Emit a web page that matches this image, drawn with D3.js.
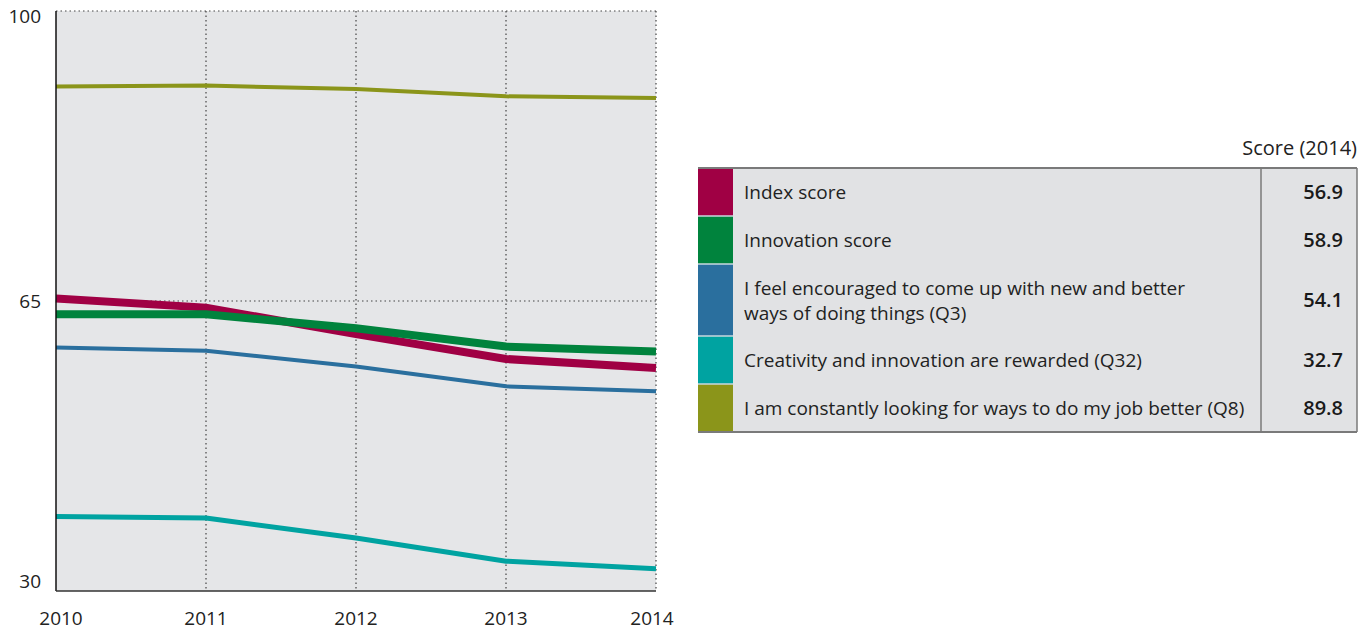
<!DOCTYPE html>
<html>
<head>
<meta charset="utf-8">
<script src="https://cdn.jsdelivr.net/npm/d3@7"></script>
<style>
  html, body { margin: 0; padding: 0; background: #fff; }
  svg { display: block; font-family: "Open Sans", Lato, sans-serif; }
</style>
</head>
<body>
<div id="chart"></div>
<script>
const years = [2010, 2011, 2012, 2013, 2014];
const yTicks = [30, 65, 100];

const indexScore = [65.3, 64.2, 61.0, 58.0, 56.9];
const innovationScore = [63.4, 63.4, 61.7, 59.5, 58.9];
const q3Encouraged = [59.4, 59.0, 57.1, 54.7, 54.1];
const q32Rewarded = [39.0, 38.8, 36.4, 33.6, 32.7];
const q8Looking = [90.9, 91.0, 90.6, 89.7, 89.5];

// values printed in the table (as given in the reference)
const scores2014 = [56.9, 58.9, 54.1, 32.7, 89.8];

const seriesNames = [
  ['Index score'],
  ['Innovation score'],
  ['I feel encouraged to come up with new and better', 'ways of doing things (Q3)'],
  ['Creativity and innovation are rewarded (Q32)'],
  ['I am constantly looking for ways to do my job better (Q8)']
];
const seriesValues = [indexScore, innovationScore, q3Encouraged, q32Rewarded, q8Looking];
const seriesColors = ['#A00044', '#00833D', '#2A6F9E', '#00A3A1', '#8B951A'];
const seriesWidths = [8, 8, 4, 5, 4];

const W = 1371, H = 630;
const m = { left: 56, right: 656, top: 11, bottom: 591 };

const svg = d3.select('#chart').append('svg').attr('width', W).attr('height', H);

const x = d3.scaleLinear().domain([2010, 2014]).range([m.left, m.right]);
const y = d3.scaleLinear().domain([30, 100]).range([m.bottom, m.top]);

// plot background
svg.append('rect').attr('x', m.left).attr('y', m.top)
  .attr('width', m.right - m.left).attr('height', m.bottom - m.top)
  .attr('fill', '#E5E6E8');

// dotted grid
const grid = svg.append('g').attr('stroke', '#444').attr('stroke-width', 1.2).attr('stroke-dasharray', '1.5,3');
grid.selectAll('line.v').data(years.slice(1)).join('line')
  .attr('x1', (d) => x(d)).attr('x2', (d) => x(d))
  .attr('y1', m.top).attr('y2', m.bottom);
grid.selectAll('line.h').data(yTicks.slice(1)).join('line')
  .attr('x1', m.left).attr('x2', m.right)
  .attr('y1', (d) => y(d)).attr('y2', (d) => y(d));

// lines, back to front so index/innovation sit on top
const line = d3.line().x((d, i) => x(years[i])).y((d) => y(d));
const order = [4, 3, 2, 0, 1];
svg.append('g').selectAll('path').data(order).join('path')
  .attr('d', (k) => line(seriesValues[k]))
  .attr('fill', 'none')
  .attr('stroke', (k) => seriesColors[k])
  .attr('stroke-width', (k) => seriesWidths[k]);

// axis lines
svg.append('line').attr('x1', m.left).attr('x2', m.left).attr('y1', m.top).attr('y2', m.bottom)
  .attr('stroke', '#111').attr('stroke-width', 1.5);
svg.append('line').attr('x1', m.left).attr('x2', m.right).attr('y1', m.bottom).attr('y2', m.bottom)
  .attr('stroke', '#333').attr('stroke-width', 1.5);

// y tick labels
svg.append('g').selectAll('text').data(yTicks).join('text')
  .attr('x', 41)
  .attr('y', (d) => d === 30 ? y(d) - 3 : d === 100 ? y(d) + 12 : y(d) + 7)
  .attr('text-anchor', 'end')
  .attr('font-size', 19).attr('fill', '#222')
  .text((d) => d);

// x tick labels
svg.append('g').selectAll('text').data(years).join('text')
  .attr('x', (d, i) => x(d) + (i === 0 ? 5 : i === years.length - 1 ? -4 : 0))
  .attr('y', 625)
  .attr('text-anchor', 'middle')
  .attr('font-size', 19).attr('fill', '#222')
  .text((d) => d);

// legend table
const tx = 698, tr = 1357, divX = 1261, swW = 35;
const rowH = [48, 48, 72, 48, 48];
const rowY = [];
let acc = 168;
rowH.forEach((h) => { rowY.push(acc); acc += h; });
const tb = acc;

svg.append('text').attr('x', tr).attr('y', 155).attr('text-anchor', 'end')
  .attr('font-size', 20).attr('fill', '#222').text('Score (2014)');

svg.append('rect').attr('x', tx).attr('y', 168).attr('width', tr - tx).attr('height', tb - 168)
  .attr('fill', '#E1E2E4');

const rows = svg.append('g').selectAll('g').data(seriesNames).join('g')
  .attr('transform', (d, i) => `translate(0,${rowY[i]})`);

rows.append('rect').attr('x', tx).attr('y', 0).attr('width', swW)
  .attr('height', (d, i) => rowH[i])
  .attr('fill', (d, i) => seriesColors[i]);

rows.each(function (d, i) {
  const g = d3.select(this);
  const mid = rowH[i] / 2;
  const lh = 25;
  d.forEach((t, j) => {
    g.append('text').attr('x', 744)
      .attr('y', mid + 7 + (j - (d.length - 1) / 2) * lh)
      .attr('font-size', 19).attr('fill', '#222').text(t);
  });
  g.append('text').attr('x', 1343).attr('y', mid + 7)
    .attr('text-anchor', 'end').attr('font-size', 20).attr('font-weight', 600)
    .attr('fill', '#1a1a1a').text(d3.format('.1f')(scores2014[i]));
});

// separators between swatches
svg.append('g').selectAll('line').data(rowY.slice(1)).join('line')
  .attr('x1', tx).attr('x2', tx + swW).attr('y1', (d) => d).attr('y2', (d) => d)
  .attr('stroke', '#C9D7DE').attr('stroke-width', 1.5);

// table borders
const bc = '#7A7A7A';
svg.append('line').attr('x1', tx).attr('x2', tr).attr('y1', 168).attr('y2', 168).attr('stroke', bc).attr('stroke-width', 2);
svg.append('line').attr('x1', tx).attr('x2', tr).attr('y1', tb).attr('y2', tb).attr('stroke', bc).attr('stroke-width', 2);
svg.append('line').attr('x1', divX).attr('x2', divX).attr('y1', 168).attr('y2', tb).attr('stroke', bc).attr('stroke-width', 1.5);
svg.append('line').attr('x1', tr).attr('x2', tr).attr('y1', 168).attr('y2', tb).attr('stroke', bc).attr('stroke-width', 1.5);
</script>
</body>
</html>
